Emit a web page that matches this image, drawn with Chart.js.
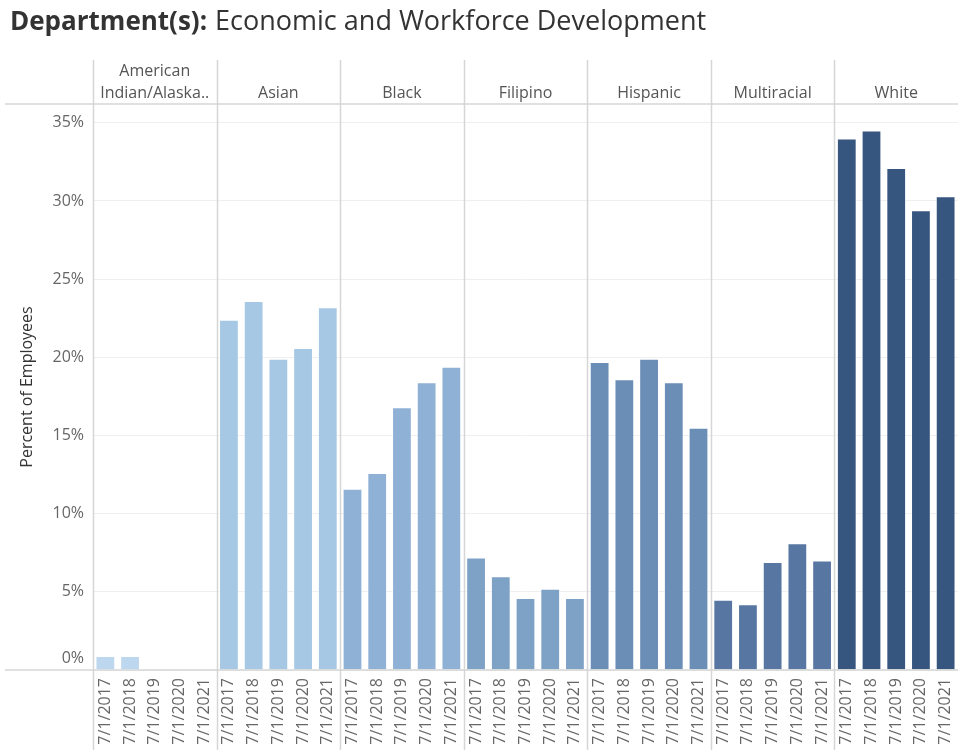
<!DOCTYPE html>
<html>
<head>
<meta charset="utf-8">
<script src="https://cdn.jsdelivr.net/npm/chart.js@4.4.1/dist/chart.umd.min.js"></script>
<style>
  body { margin: 0; background: #fff; }
  #wrap { position: relative; width: 958px; height: 750px; }
</style>
</head>
<body>
<div id="wrap"><canvas id="chart"></canvas></div>
<script>
// Ethnicity panels, each split by snapshot date
const groups = [['American', 'Indian/Alaska..'], ['Asian'], ['Black'], ['Filipino'], ['Hispanic'], ['Multiracial'], ['White']];
const years = ['7/1/2017', '7/1/2018', '7/1/2019', '7/1/2020', '7/1/2021'];

// Percent of employees per panel
const americanIndian = [0.9, 0.9, null, null, null];
const asian = [22.4, 23.6, 19.9, 20.6, 23.2];
const black = [11.6, 12.6, 16.8, 18.4, 19.4];
const filipino = [7.2, 6.0, 4.6, 5.2, 4.6];
const hispanic = [19.7, 18.6, 19.9, 18.4, 15.5];
const multiracial = [4.5, 4.2, 6.9, 8.1, 7.0];
const white = [34.0, 34.5, 32.1, 29.4, 30.3];

const yTicks = [0, 5, 10, 15, 20, 25, 30, 35];

const groupColors = ['#bdd7ee', '#a6c8e4', '#8fb1d6', '#7ea1c6', '#6a8eb6', '#5777a2', '#36557f'];

const series = [americanIndian, asian, black, filipino, hispanic, multiracial, white];
const labels = groups.flatMap(() => years);
const values = series.flat();
const colors = groupColors.flatMap(c => years.map(() => c));

const FONT = '"Open Sans", sans-serif';
Chart.defaults.font.family = FONT;

const LINE = '#d6d6d6';

// Title, panel headers, panel separators and the lifted 0% label
const facets = {
  id: 'facets',
  afterDraw(chart) {
    const { ctx, chartArea: a, scales: { y } } = chart;
    const step = (a.right - a.left) / labels.length;
    const edges = groups.map((g, i) => a.left + i * years.length * step);

    ctx.save();
    ctx.strokeStyle = LINE;
    ctx.lineWidth = 1.5;
    ctx.beginPath();
    ctx.moveTo(5, a.top); ctx.lineTo(a.right, a.top);
    ctx.moveTo(5, a.bottom); ctx.lineTo(a.right, a.bottom);
    edges.forEach(x => {
      const px = Math.round(x) + 0.5;
      ctx.moveTo(px, 60); ctx.lineTo(px, 750);
    });
    ctx.stroke();

    // 0% sits just above the baseline
    ctx.fillStyle = '#666';
    ctx.font = '16px ' + FONT;
    ctx.textAlign = 'right';
    ctx.textBaseline = 'middle';
    ctx.fillText('0%', a.left - 9, y.getPixelForValue(0) - 12);

    // panel names
    ctx.fillStyle = '#555';
    ctx.textAlign = 'center';
    groups.forEach((lines, i) => {
      const cx = edges[i] + years.length * step / 2;
      lines.forEach((t, j) => {
        ctx.fillText(t, cx, 93 - (lines.length - 1 - j) * 22);
      });
    });

    // heading
    ctx.textAlign = 'left';
    ctx.textBaseline = 'alphabetic';
    ctx.fillStyle = '#333';
    ctx.font = 'bold 26px ' + FONT;
    const head = 'Department(s):';
    ctx.fillText(head, 10, 30);
    const w = ctx.measureText(head).width;
    ctx.font = '27px ' + FONT;
    ctx.fillText('Economic and Workforce Development', 10 + w + 8, 30);
    ctx.restore();
  }
};

new Chart(document.getElementById('chart'), {
  type: 'bar',
  data: {
    labels: labels,
    datasets: [{
      data: values,
      backgroundColor: colors,
      borderColor: 'rgba(255,255,255,0.45)',
      borderWidth: 1,
      borderSkipped: 'start',
      categoryPercentage: 1,
      barPercentage: 0.8
    }]
  },
  options: {
    responsive: true,
    maintainAspectRatio: false,
    animation: false,
    layout: { padding: { top: 104, left: 0, right: 0, bottom: 0 } },
    plugins: {
      legend: { display: false },
      tooltip: { enabled: false }
    },
    scales: {
      x: {
        grid: { display: false, drawTicks: false },
        border: { display: false },
        ticks: {
          autoSkip: false,
          minRotation: 90,
          maxRotation: 90,
          padding: 8,
          color: '#666',
          font: { size: 16 }
        },
        afterFit(s) {
          s.height = 80;
          s.paddingLeft = 0;
          s.paddingRight = 0;
        }
      },
      y: {
        min: 0,
        max: 36.2,
        afterBuildTicks(s) {
          s.ticks = yTicks.map(v => ({ value: v }));
        },
        grid: { color: '#efefef', drawTicks: false },
        border: { display: false },
        ticks: {
          padding: 9,
          color: '#666',
          font: { size: 16 },
          callback: v => (v === 0 ? '' : v + '%')
        },
        title: {
          display: true,
          text: 'Percent of Employees',
          color: '#333',
          font: { size: 16 },
          padding: { top: 18, bottom: 0 }
        },
        afterFit(s) {
          s.width = 93;
          s.paddingTop = 0;
          s.paddingBottom = 0;
        }
      }
    }
  },
  plugins: [facets]
});
</script>
</body>
</html>
